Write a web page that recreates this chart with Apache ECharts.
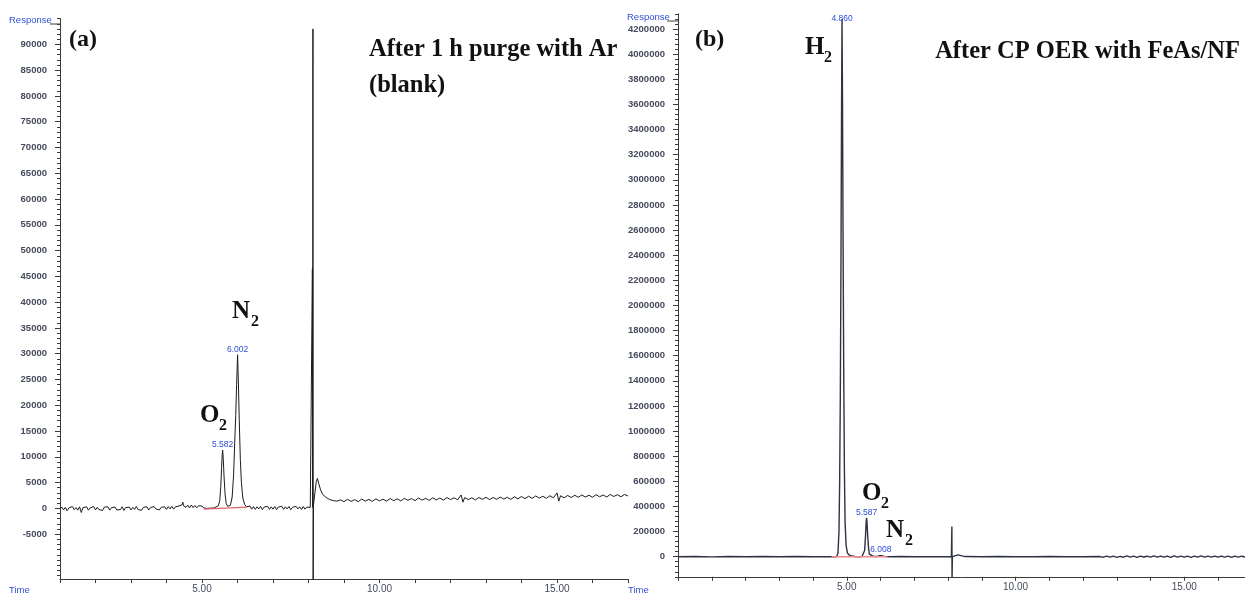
<!DOCTYPE html>
<html>
<head>
<meta charset="utf-8">
<title>GC chromatograms</title>
<script src="https://cdn.jsdelivr.net/npm/echarts@6.0.0/dist/echarts.min.js"></script>
<style>
  html, body { margin: 0; padding: 0; background: #ffffff; }
  #chart { width: 1245px; height: 594px; }
</style>
</head>
<body>
<div id="chart"></div>
<script>
// ---------- Panel (a): after 1 h purge with Ar (blank) ----------
// Detector trace, [retention time (min), response]; peak apexes come from peaksA.
const signalA = [
  [1.00,-150],[1.05,250],[1.10,-300],[1.15,200],[1.20,-450],[1.25,100],[1.30,-200],[1.35,350],[1.40,-250],[1.45,150],
  [1.50,-350],[1.55,300],[1.60,-800],[1.65,150],[1.70,-200],[1.75,300],[1.80,-350],[1.85,100],[1.90,-150],[1.95,350],
  [2.00,-300],[2.05,200],[2.10,-250],[2.15,100],[2.20,-400],[2.25,250],[2.30,-100],[2.35,300],[2.40,-350],[2.45,150],
  [2.50,-200],[2.55,250],[2.60,-300],[2.65,50],[2.70,-250],[2.75,300],[2.80,-400],[2.85,150],[2.90,-150],[2.95,250],
  [3.00,-300],[3.05,200],[3.10,-200],[3.15,350],[3.20,-250],[3.25,100],[3.30,-350],[3.35,200],[3.40,-150],[3.45,300],
  [3.50,-300],[3.55,150],[3.60,-200],[3.65,350],[3.70,-100],[3.75,250],[3.80,-300],[3.85,200],[3.90,-150],[3.95,300],
  [4.00,-200],[4.05,350],[4.10,-100],[4.15,400],[4.20,-150],[4.25,300],[4.30,0],[4.35,450],[4.40,100],[4.44,700],
  [4.46,1200],[4.48,500],[4.52,800],[4.55,200],[4.60,600],[4.65,100],[4.70,650],[4.75,150],[4.80,550],[4.85,100],
  [4.90,500],[4.95,150],[5.00,450],[5.05,50],[5.10,400],[5.15,0],[5.20,350],[5.25,50],[5.30,300],[5.35,100],[5.40,250],
  [5.46,500],[5.50,1500],[5.53,4300],[5.55,7700],[5.57,10500],[5.60,9500],[5.62,6300],[5.65,2800],[5.68,1000],[5.72,400],[5.76,300],
  [5.80,600],[5.85,2200],[5.89,6500],[5.92,12500],[5.95,18000],[5.975,24000],[6.025,24500],[6.05,17000],[6.08,9500],[6.11,5000],[6.15,2000],[6.20,800],[6.25,300],
  [6.30,100],[6.35,450],[6.40,-150],[6.45,350],[6.50,-200],[6.55,300],[6.60,-100],[6.65,400],[6.70,-250],[6.75,250],
  [6.80,-100],[6.85,400],[6.90,-200],[6.95,300],[7.00,-150],[7.05,350],[7.10,-250],[7.15,250],[7.20,-50],[7.25,400],
  [7.30,-200],[7.35,300],[7.40,-100],[7.45,350],[7.50,-250],[7.55,200],[7.60,-150],[7.65,400],[7.70,-100],[7.75,300],
  [7.80,-200],[7.85,350],[7.90,-150],[7.95,250],[8.00,-100],[8.05,200],[8.08,0],
  [8.11,46500],[8.118,200],[8.125,93000],[8.13,-20000],[8.14,600],
  [8.18,3000],[8.22,5200],[8.25,5800],[8.29,4800],[8.34,3600],[8.40,2700],[8.5,2100],[8.6,1700],[8.7,1500],[8.8,1400],
  [8.9,1650],[9.0,1300],[9.1,1750],[9.2,1350],[9.3,1700],[9.4,1300],[9.5,1800],[9.6,1400],[9.7,1750],[9.8,1350],
  [9.9,1850],[10.0,1450],[10.1,1800],[10.2,1400],[10.3,1900],[10.4,1500],[10.5,1850],[10.6,1450],[10.7,1950],[10.8,1550],
  [10.9,1900],[11.0,1500],[11.1,2000],[11.2,1600],[11.3,1950],[11.4,1550],[11.5,2050],[11.6,1650],[11.7,2000],[11.8,1600],
  [11.9,2100],[12.0,1700],[12.1,2050],[12.2,1650],[12.3,2600],[12.35,1200],[12.4,2100],[12.5,1700],[12.6,2050],[12.7,1650],
  [12.8,2100],[12.9,1750],[13.0,2150],[13.1,1700],[13.2,2100],[13.3,1750],[13.4,2200],[13.5,1800],[13.6,2150],[13.7,1750],
  [13.8,2250],[13.9,1850],[14.0,2300],[14.1,1900],[14.2,2350],[14.3,1950],[14.4,2400],[14.5,2000],[14.6,2350],[14.7,1950],
  [14.8,2450],[14.9,2050],[15.0,3000],[15.05,1400],[15.1,2450],[15.2,2050],[15.3,2500],[15.4,2100],[15.5,2550],[15.6,2150],
  [15.7,2600],[15.8,2200],[15.9,2550],[16.0,2150],[16.1,2650],[16.2,2250],[16.3,2600],[16.4,2200],[16.5,2700],[16.6,2300],
  [16.7,2650],[16.8,2250],[16.9,2700],[17.0,2400]
];
const peaksA = [
  { name: 'O', time: 5.582, height: 11300 },
  { name: 'N', time: 6.002, height: 29800 }
];
const integrationA = [[5.05,-150],[6.27,250]];
const yTicksA = [-5000,0,5000,10000,15000,20000,25000,30000,35000,40000,45000,50000,55000,60000,65000,70000,75000,80000,85000,90000];
const xTicksA = [5,10,15];

// ---------- Panel (b): after CP OER with FeAs/NF ----------
const signalB = [
  [0,0],[0.5,2000],[1.0,-1500],[1.5,1000],[2.0,-1000],[2.5,1500],[3.0,-500],[3.5,1000],[4.0,-1000],[4.5,500],[4.7,0],
  [4.74,30000],[4.77,200000],[4.79,600000],[4.81,1300000],[4.83,2400000],[4.845,3500000],[4.875,3600000],[4.89,2600000],
  [4.91,1500000],[4.93,700000],[4.95,280000],[4.98,90000],[5.02,30000],[5.08,12000],[5.15,5000],[5.25,2000],[5.35,0],[5.45,1000],
  [5.50,8000],[5.53,50000],[5.555,160000],[5.575,275000],[5.60,275000],[5.62,170000],[5.645,70000],[5.67,20000],[5.71,5000],[5.8,1000],[5.9,2000],
  [5.95,5000],[5.98,8000],[6.04,7000],[6.08,3000],[6.15,500],[6.3,0],[6.6,1000],[7.0,-500],[7.5,500],[8.0,0],[8.1,0],
  [8.115,240000],[8.12,-200000],[8.125,-90000],[8.13,0],[8.15,14000],[8.3,14000],[8.35,4000],[8.5,1000],[9.0,0],
  [9.5,1000],[10.0,0],[10.5,-1000],[11.0,1000],[11.5,0],[12.0,-1000],[12.5,1000],
  [12.6,-4000],[12.7,5000],[12.8,-3000],[12.9,4000],[13.0,-5000],[13.1,3000],[13.2,-4000],[13.3,6000],[13.4,-3000],[13.5,4000],
  [13.6,-5000],[13.7,5000],[13.8,-2000],[13.9,4000],[14.0,-4000],[14.1,6000],[14.2,-3000],[14.3,5000],[14.4,-4000],[14.5,4000],
  [14.6,-5000],[14.7,6000],[14.8,-3000],[14.9,5000],[15.0,-4000],[15.1,4000],[15.2,-5000],[15.3,5000],[15.4,-3000],[15.5,6000],
  [15.6,-4000],[15.7,4000],[15.8,-3000],[15.9,5000],[16.0,-4000],[16.1,5000],[16.2,-3000],[16.3,4000],[16.4,-5000],[16.5,5000],
  [16.6,-3000],[16.7,4000],[16.8,-2000]
];
const peaksB = [
  { name: 'H', time: 4.860, height: 4280000 },
  { name: 'O', time: 5.587, height: 310000 },
  { name: 'N', time: 6.008, height: 9000 }
];
const integrationB = [[4.55,0],[6.2,0]];
const yTicksB = [0,200000,400000,600000,800000,1000000,1200000,1400000,1600000,1800000,2000000,2200000,2400000,2600000,2800000,3000000,3200000,3400000,3600000,3800000,4000000,4200000];
const xTicksB = [5,10,15];

// ---------- build ----------
function withApexes(signal, peaks) {
  return signal.concat(peaks.map(p => [p.time, p.height])).sort((a, b) => a[0] - b[0]);
}
function range(min, max, step) {
  const out = [];
  for (let v = Math.ceil(min / step) * step; v <= max; v += step) out.push(v);
  return out;
}

const AXIS = '#3a3a3a';
const TICK_LABEL = '#454a5c';
const BLUE = '#2f4fd6';
const SERIF = '"Liberation Serif", "Times New Roman", serif';
const SANS = '"Liberation Sans", Arial, sans-serif';

const yA = { min: -13700, max: 95000 };
const yB = { min: -160000, max: 4320000 };

function majorY(grid, lim, ticks) {
  return {
    gridIndex: grid, type: 'value', min: lim.min, max: lim.max, position: 'left',
    axisLine: { show: true, lineStyle: { color: AXIS, width: 1 } },
    axisTick: { show: true, customValues: ticks, length: 5, lineStyle: { color: AXIS } },
    axisLabel: { customValues: ticks, formatter: v => String(v), fontSize: 9.5, fontWeight: 'bold', color: TICK_LABEL, fontFamily: SANS, margin: 13 },
    splitLine: { show: false }
  };
}
function minorY(grid, lim, step) {
  return {
    gridIndex: grid, type: 'value', min: lim.min, max: lim.max, position: 'left', offset: 0,
    axisLine: { show: false },
    axisTick: { show: true, customValues: range(lim.min, lim.max, step), length: 3, lineStyle: { color: AXIS } },
    axisLabel: { show: false },
    splitLine: { show: false }
  };
}
function timeX(grid, min, max, labels) {
  return {
    gridIndex: grid, type: 'value', min: min, max: max, interval: 1,
    axisLine: { show: true, onZero: false, lineStyle: { color: AXIS, width: 1 } },
    axisTick: { show: true, length: 4, lineStyle: { color: AXIS } },
    axisLabel: { customValues: labels, formatter: v => v.toFixed(2), fontSize: 10, color: TICK_LABEL, fontFamily: SANS, margin: 5 },
    splitLine: { show: false }
  };
}
function peakMarks(peaks, insideNames) {
  return {
    symbol: 'circle', symbolSize: 0, silent: true,
    data: peaks.map(p => ({
      coord: [p.time, p.height], value: p.time,
      label: insideNames.indexOf(p.name) >= 0 ? { position: 'inside', offset: [0, 0] } : { position: 'top', distance: 1 }
    })),
    label: { show: true, formatter: d => d.value.toFixed(3), color: BLUE, fontSize: 8.5, fontFamily: SANS }
  };
}

function txt(x, y, text, size, align) {
  return {
    type: 'text', x: x, y: y, silent: true,
    style: { text: text, font: 'bold ' + size + 'px ' + SERIF, fill: '#111111', textVerticalAlign: 'middle', textAlign: align || 'left' }
  };
}
function caption(x, y, text) {
  return { type: 'text', x: x, y: y, silent: true,
    style: { text: text, font: '9.5px ' + SANS, fill: BLUE, textVerticalAlign: 'middle', textAlign: 'left' } };
}

const option = {
  backgroundColor: '#ffffff',
  animation: false,
  grid: [
    { left: 60, top: 18.6, width: 568, height: 562.3 },
    { left: 678, top: 13.9, width: 567, height: 562.9 }
  ],
  xAxis: [timeX(0, 1, 17, xTicksA), timeX(1, 0, 16.8, xTicksB)],
  yAxis: [majorY(0, yA, yTicksA), minorY(0, yA, 1000), majorY(1, yB, yTicksB), minorY(1, yB, 40000)],
  series: [
    {
      type: 'line', xAxisIndex: 0, yAxisIndex: 0, data: withApexes(signalA, peaksA),
      showSymbol: false, clip: true, lineStyle: { color: '#1c1c1c', width: 1 },
      markPoint: peakMarks(peaksA, [])
    },
    {
      type: 'line', xAxisIndex: 0, yAxisIndex: 0, data: integrationA, z: 3,
      showSymbol: false, lineStyle: { color: '#e4646c', width: 1.2 }
    },
    {
      type: 'line', xAxisIndex: 1, yAxisIndex: 2, data: withApexes(signalB, peaksB),
      showSymbol: false, clip: true, lineStyle: { color: '#2e3340', width: 1.4 },
      markPoint: peakMarks(peaksB, ['H'])
    },
    {
      type: 'line', xAxisIndex: 1, yAxisIndex: 2, data: integrationB, z: 3,
      showSymbol: false, lineStyle: { color: '#ec8a90', width: 1.4 }
    }
  ],
  graphic: [
    // axis captions
    caption(9, 20, 'Response'),
    { type: 'line', silent: true, shape: { x1: 50, y1: 24, x2: 60, y2: 24 }, style: { stroke: AXIS, lineWidth: 1 } },
    caption(9, 590, 'Time'),
    caption(627, 17, 'Response'),
    { type: 'line', silent: true, shape: { x1: 667, y1: 21, x2: 678, y2: 21 }, style: { stroke: AXIS, lineWidth: 1 } },
    caption(628, 590, 'Time'),
    // panel (a) annotations
    txt(69, 40, '(a)', 24),
    txt(369, 50, 'After 1 h purge with Ar', 24.5),
    txt(369, 86, '(blank)', 24.5),
    txt(232, 312, 'N', 25), txt(251, 322, '2', 16),
    txt(200, 416, 'O', 25), txt(219, 426, '2', 16),
    // panel (b) annotations
    txt(695, 40, '(b)', 24),
    txt(1240, 52, 'After CP OER with FeAs/NF', 24.5, 'right'),
    txt(805, 48, 'H', 25), txt(824, 58, '2', 16),
    txt(862, 494, 'O', 25), txt(881, 504, '2', 16),
    txt(886, 531, 'N', 25), txt(905, 541, '2', 16)
  ]
};

const chart = echarts.init(document.getElementById('chart'), null, { renderer: 'canvas' });
chart.setOption(option);
</script>
</body>
</html>
